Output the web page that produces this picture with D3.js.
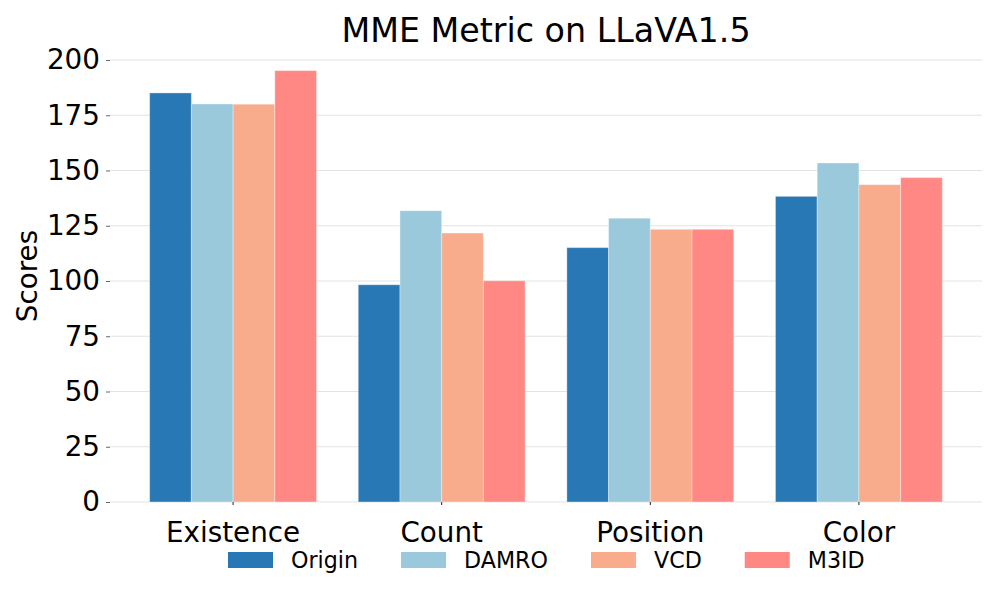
<!DOCTYPE html>
<html>
<head>
<meta charset="utf-8">
<script src="https://cdn.jsdelivr.net/npm/d3@7"></script>
<style>
  body { margin: 0; background: #fff; }
  text { font-family: "DejaVu Sans", sans-serif; fill: #000; }
</style>
</head>
<body>
<svg id="chart"></svg>
<script>
const categories = ["Existence", "Count", "Position", "Color"];
const seriesNames = ["Origin", "DAMRO", "VCD", "M3ID"];
const origin = [185.1, 98.3, 115.1, 138.3];
const damro = [180.1, 131.8, 128.4, 153.4];
const vcd = [180.0, 121.7, 123.4, 143.6];
const m3id = [195.2, 100.1, 123.4, 146.8];
const yTicks = [0, 25, 50, 75, 100, 125, 150, 175, 200];
const colors = ["#2878b5", "#9ac9db", "#f8ac8c", "#ff8884"];

const seriesValues = [origin, damro, vcd, m3id];

const width = 997, height = 598;
const margin = { top: 60, right: 15, bottom: 96, left: 110 };

const svg = d3.select("#chart")
    .attr("width", width)
    .attr("height", height);

const x0 = d3.scaleBand()
    .domain(categories)
    .range([margin.left, width - margin.right])
    .paddingInner(0.2)
    .paddingOuter(0.19);

const x1 = d3.scaleBand()
    .domain(seriesNames)
    .range([0, x0.bandwidth()])
    .padding(0);

const y = d3.scaleLinear()
    .domain([0, 200])
    .range([height - margin.bottom, margin.top]);

const color = d3.scaleOrdinal().domain(seriesNames).range(colors);

// grid
svg.append("g")
    .selectAll("line")
    .data(yTicks)
    .join("line")
    .attr("x1", margin.left)
    .attr("x2", width - margin.right)
    .attr("y1", d => y(d))
    .attr("y2", d => y(d))
    .attr("stroke", "#e3e3e3")
    .attr("stroke-width", 1.2);

// bars
const groups = svg.append("g")
    .selectAll("g")
    .data(categories)
    .join("g")
    .attr("transform", d => `translate(${x0(d)},0)`);

groups.selectAll("rect")
    .data((c, i) => seriesNames.map((s, j) => ({ s, v: seriesValues[j][i] })))
    .join("rect")
    .attr("x", d => x1(d.s))
    .attr("y", d => y(d.v))
    .attr("width", x1.bandwidth())
    .attr("height", d => y(0) - y(d.v))
    .attr("fill", d => color(d.s))
    .attr("stroke", "#ffffff")
    .attr("stroke-opacity", 0.35)
    .attr("stroke-width", 1);

// y axis
const yAxis = svg.append("g")
    .attr("transform", `translate(${margin.left},0)`)
    .call(d3.axisLeft(y).tickValues(yTicks).tickSize(4).tickPadding(6));
yAxis.select(".domain").remove();
yAxis.selectAll(".tick line").attr("stroke", "#666");
yAxis.selectAll(".tick text")
    .style("font-size", "27.8px")
    .style("font-family", "DejaVu Sans, sans-serif")
    .attr("fill", "#000");

// x axis
const xAxis = svg.append("g")
    .attr("transform", `translate(0,${y(0)})`)
    .call(d3.axisBottom(x0).tickSize(3).tickPadding(17));
xAxis.select(".domain").remove();
xAxis.selectAll(".tick line").attr("stroke", "#222");
xAxis.selectAll(".tick text")
    .style("font-size", "27.8px")
    .style("font-family", "DejaVu Sans, sans-serif")
    .attr("fill", "#000");

// title
svg.append("text")
    .attr("x", (margin.left + width - margin.right) / 2)
    .attr("y", 42)
    .attr("text-anchor", "middle")
    .style("font-size", "33.3px")
    .text("MME Metric on LLaVA1.5");

// y label
svg.append("text")
    .attr("transform", "translate(37,276) rotate(-90)")
    .attr("text-anchor", "middle")
    .style("font-size", "27.8px")
    .text("Scores");

// legend
const legend = svg.append("g");
let lx = 228;
seriesNames.forEach((s, i) => {
    const item = legend.append("g").attr("transform", `translate(${lx},0)`);
    item.append("rect")
        .attr("x", 0).attr("y", 552)
        .attr("width", 45).attr("height", 16)
        .attr("fill", colors[i]);
    const t = item.append("text")
        .attr("x", 63).attr("y", 568)
        .style("font-size", "22.2px")
        .text(s);
    lx += 63 + t.node().getComputedTextLength() + 43;
});
</script>
</body>
</html>
